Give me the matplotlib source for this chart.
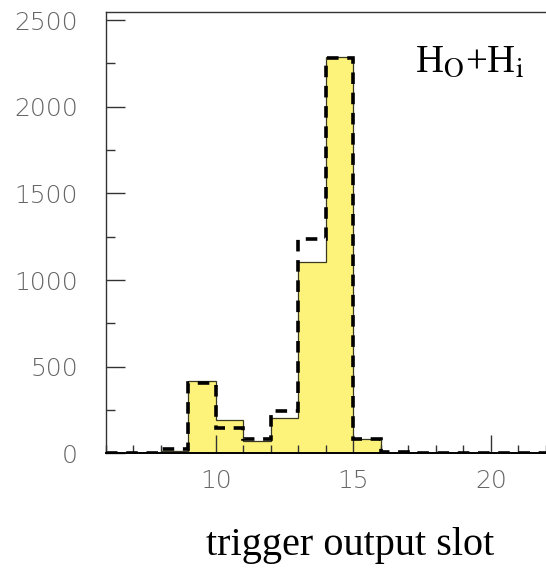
import matplotlib.pyplot as plt
from matplotlib.ticker import MultipleLocator
import numpy as np

# bin edges: trigger output slots 6..22
slot_edges = np.arange(6, 23)

# filled histogram (H_O + H_i)
counts_fill = [0, 0, 12, 417, 192, 71, 206, 1104, 2288, 84, 3, 0, 0, 0, 0, 0]
# dashed overlay
counts_dash = [0, 0, 22, 404, 146, 81, 244, 1235, 2280, 81, 6, 0, 0, 0, 0, 0]

fig = plt.figure(figsize=(5.46, 5.68), dpi=100)
ax = fig.add_axes([105.7 / 546, 1 - 453.3 / 568, 1 - 105.7 / 546, (453.3 - 12.3) / 568])

ax.stairs(counts_fill, slot_edges, fill=True, facecolor='#fdf27a', edgecolor='none', zorder=1)
ax.stairs(counts_fill, slot_edges, baseline=0, color='#3a3a20', linewidth=0.9, zorder=2)
ax.stairs(counts_dash, slot_edges, baseline=None, color='black', linewidth=2.6,
          linestyle=(0, (3.2, 2.4)), zorder=3)

ax.set_xlim(6, 22)
ax.set_ylim(0, 2545)

ax.xaxis.set_major_locator(MultipleLocator(5))
ax.xaxis.set_minor_locator(MultipleLocator(1))
ax.yaxis.set_major_locator(MultipleLocator(500))
ax.yaxis.set_minor_locator(MultipleLocator(250))

ax.tick_params(axis='both', which='both', direction='in', color='#333333', width=1.0)
ax.tick_params(axis='y', which='major', length=13.5, pad=20, labelsize=18, labelcolor='#666666')
ax.tick_params(axis='y', which='minor', length=6.5)
ax.tick_params(axis='x', which='major', length=13, pad=11, labelsize=18, labelcolor='#666666')
ax.tick_params(axis='x', which='minor', length=6)
ax.tick_params(top=False, right=False, which='both')
for lbl in ax.get_xticklabels() + ax.get_yticklabels():
    lbl.set_fontweight('light')

for s in ['top', 'left']:
    ax.spines[s].set_color('#333333')
    ax.spines[s].set_linewidth(1.0)
ax.spines['bottom'].set_color('black')
ax.spines['bottom'].set_linewidth(1.4)
ax.spines['right'].set_visible(False)

ax.text(415 / 546, 1 - 72 / 568, r'H$_\mathrm{O}$+H$_\mathrm{i}$',
        transform=fig.transFigure, family='Liberation Serif', fontsize=28,
        ha='left', va='baseline', math_fontfamily='stix')

fig.text(350 / 546, 13 / 568, 'trigger output slot', family='Liberation Serif',
         fontsize=29, ha='center', va='baseline')

fig.savefig('out.png', dpi=100)
